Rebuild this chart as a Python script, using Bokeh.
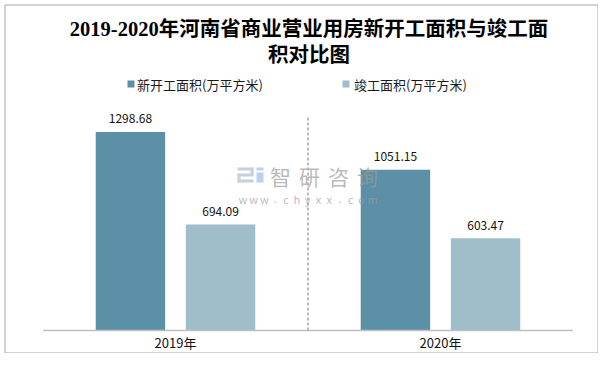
from bokeh.plotting import figure
from bokeh.models import Range1d
from bokeh.core.properties import value
from bokeh.embed import file_html
from bokeh.resources import INLINE

# ---------------- data ----------------
categories = ["2019年", "2020年"]
new_start = [1298.68, 1051.15]      # 新开工面积(万平方米)
completed = [694.09, 603.47]        # 竣工面积(万平方米)
series_names = ["新开工面积(万平方米)", "竣工面积(万平方米)"]
title_lines = ["2019-2020年河南省商业营业用房新开工面积与竣工面", "积对比图"]
y_max = 1400

# ---------------- style / layout ----------------
colors = ["#5C90A6", "#A0BECA"]
W, H = 598, 353
X0 = 42.5            # px of left end of category band
CW = 265.0           # px per category
YB = 330.0           # px of baseline
YS = 214.0 / y_max   # px per unit

def px(fx):
    return (fx - X0) / CW

def py(fy):
    return (YB - fy) / YS

CJK = value("Noto Sans CJK SC")
TITLE_FONT = value("Liberation Serif, Noto Sans CJK SC")

p = figure(width=W, height=H, output_backend="svg", toolbar_location=None,
           x_range=Range1d(px(0), px(W)), y_range=Range1d(py(H), py(0)),
           x_axis_type=None, y_axis_type=None, title=None,
           min_border=0, min_border_left=0, min_border_right=0,
           min_border_top=0, min_border_bottom=0)
p.grid.visible = False
p.outline_line_color = None
p.background_fill_color = "white"
p.border_fill_color = "white"

n = len(categories)
centers = [i + 0.5 for i in range(n)]
off = 0.17
bw = 0.262

# chart border
p.quad(left=[px(4.5)], right=[px(597.5)], top=[py(4.5)], bottom=[py(352.5)],
       fill_color=None, line_color="#A6A6A6", line_width=1)

# bars
x_new = [c - off for c in centers]
x_cmp = [c + off for c in centers]
p.vbar(x=x_new, top=new_start, width=bw, bottom=0, fill_color=colors[0], line_color=None)
p.vbar(x=x_cmp, top=completed, width=bw, bottom=0, fill_color=colors[1], line_color=None)

# baseline and separator
p.segment(x0=[0], y0=[0], x1=[n], y1=[0], line_color="#BFBFBF", line_width=1.3)
p.segment(x0=[1], y0=[0], x1=[1], y1=[y_max], line_color="#ABABAB",
          line_width=1.6, line_dash="3 2")

# watermark (semi-transparent, over the bars)
wm_chars = ["智", "研", "咨", "询"]
p.text(x=[px(280 + 29 * i) for i in range(4)], y=[py(175)] * 4, text=wm_chars,
       text_font=CJK, text_font_size="21px", text_color="#9A9A9A", text_alpha=0.7,
       text_align="center", text_baseline="middle")
url = list("www.chyxx.com")
p.text(x=[px(242.4 + 10.8 * i) for i in range(len(url))], y=[py(198)] * len(url),
       text=url, text_font=CJK, text_font_size="11px", text_color="#9A9A9A", text_alpha=0.7,
       text_align="center", text_baseline="middle")
lg_l = [237, 250, 237, 237, 237]
lg_r = [253, 253, 253, 240, 253]
lg_t = [167, 167, 173, 173, 179]
lg_b = [170, 175, 176, 182, 182]
p.quad(left=[px(v) for v in lg_l], right=[px(v) for v in lg_r],
       top=[py(v) for v in lg_t], bottom=[py(v) for v in lg_b],
       fill_color="#C6D0E0", line_color=None)
p.quad(left=[px(256), px(256)], right=[px(263), px(263)],
       top=[py(167), py(172)], bottom=[py(170), py(182)],
       fill_color="#B6D2EE", line_color=None)

# value labels
p.text(x=x_new, y=new_start, text=[f"{v:.2f}" for v in new_start],
       text_font=CJK, text_font_size="12px", text_color="#111111",
       text_align="center", text_baseline="middle", y_offset=-13)
p.text(x=x_cmp, y=completed, text=[f"{v:.2f}" for v in completed],
       text_font=CJK, text_font_size="12px", text_color="#111111",
       text_align="center", text_baseline="middle", y_offset=-13)

# category labels
p.text(x=centers, y=[0] * n, text=categories, text_font=CJK, text_font_size="13px",
       text_color="#111111", text_align="center", text_baseline="middle", y_offset=12)

# title
p.text(x=[px(308.5), px(308.5)], y=[py(28), py(54)], text=title_lines, text_font=TITLE_FONT,
       text_font_size="20.5px", text_font_style="bold", text_color="#000000",
       text_align="center", text_baseline="middle")

# legend
p.scatter(x=[px(130.5), px(345.5)], y=[py(83.5)] * 2, marker="square", size=7,
          fill_color=colors, line_color=None)
p.text(x=[px(136.6), px(353.5)], y=[py(84)] * 2, text=series_names, text_font=CJK,
       text_font_size="13px", text_color="#1A1A1A", text_align="left",
       text_baseline="middle")

open("out.html", "w").write(file_html(p, INLINE))
